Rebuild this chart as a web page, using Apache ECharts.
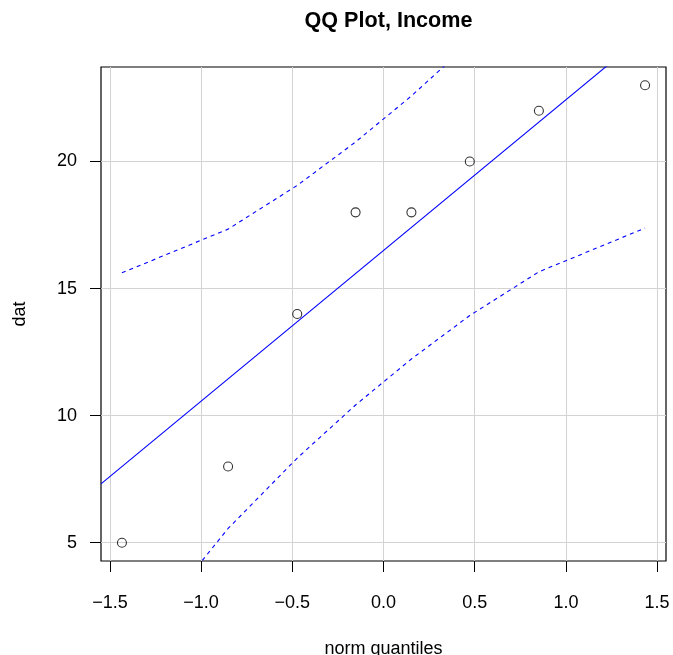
<!DOCTYPE html>
<html>
<head>
<meta charset="utf-8">
<script src="https://cdn.jsdelivr.net/npm/echarts@6/dist/echarts.min.js"></script>
<style>html,body{margin:0;padding:0;background:#fff}#c{width:673px;height:655px}</style>
</head>
<body>
<div id="c"></div>
<script>
// Theoretical normal quantiles (x) and sorted data (y)
const quantiles = [-1.434, -0.852, -0.473, -0.153, 0.153, 0.473, 0.852, 1.434];
const dat = [5, 8, 14, 18, 18, 20, 22, 23];
// 95% confidence envelope at each quantile
const upperEnv = [15.62, 17.34, 19.06, 20.77, 22.58, 24.67, 27.44, 32.62];
const lowerEnv = [0.38, 5.56, 8.33, 10.42, 12.23, 13.94, 15.66, 17.38];
// Reference (quartile) line endpoints across the plot range
const refLineX = [-1.5488, 1.5488];
const refLineY = [7.316, 25.684];
// Axis ranges and ticks
const xRange = [-1.5488, 1.5488];
const yRange = [4.28, 23.72];
const xTicks = [-1.5, -1.0, -0.5, 0.0, 0.5, 1.0, 1.5];
const yTicks = [5, 10, 15, 20];

const FONT = 'Liberation Sans, Arial, Helvetica, sans-serif';
const zip = (a, b) => a.map((v, i) => [v, b[i]]);

const chart = echarts.init(document.getElementById('c'), null, {renderer: 'canvas'});
chart.setOption({
  animation: false,
  backgroundColor: '#ffffff',
  title: {
    text: 'QQ Plot, Income',
    left: 383.5,
    textAlign: 'center',
    top: 5,
    textStyle: {fontFamily: FONT, fontWeight: 'bold', fontSize: 21.6, color: '#000'}
  },
  grid: {
    left: 101, right: 7, top: 67, bottom: 94,
    outerBoundsMode: 'none', containLabel: false,
    show: true, borderColor: '#000', borderWidth: 1.2, backgroundColor: 'transparent'
  },
  xAxis: {
    type: 'value',
    min: xRange[0], max: xRange[1],
    name: 'norm quantiles',
    nameLocation: 'middle',
    nameGap: 79,
    nameTextStyle: {fontFamily: FONT, fontSize: 18, color: '#000'},
    axisLine: {show: false, onZero: false},
    axisTick: {show: true, length: 11, lineStyle: {color: '#000'}, customValues: xTicks},
    axisLabel: {
      fontFamily: FONT, fontSize: 18, color: '#000', margin: 33,
      customValues: xTicks,
      formatter: v => (v < 0 ? '\u2212' : '') + Math.abs(v).toFixed(1)
    },
    splitLine: {show: true, lineStyle: {color: '#d3d3d3', width: 1}}
  },
  yAxis: {
    type: 'value',
    min: yRange[0], max: yRange[1],
    name: 'dat',
    nameLocation: 'middle',
    nameGap: 72,
    nameTextStyle: {fontFamily: FONT, fontSize: 18, color: '#000'},
    axisLine: {show: false, onZero: false},
    axisTick: {show: true, length: 11, lineStyle: {color: '#000'}, customValues: yTicks},
    axisLabel: {
      fontFamily: FONT, fontSize: 18, color: '#000', margin: 24,
      customValues: yTicks,
      formatter: v => String(Math.round(v))
    },
    splitLine: {show: true, lineStyle: {color: '#d3d3d3', width: 1}}
  },
  series: [
    {
      type: 'line', data: zip(refLineX, refLineY), showSymbol: false, symbol: 'none',
      lineStyle: {color: '#0000ff', width: 1.1}, clip: true, z: 3
    },
    {
      type: 'line', data: zip(quantiles, upperEnv), showSymbol: false, symbol: 'none',
      lineStyle: {color: '#0000ff', width: 1.1, type: [4, 4]}, clip: true, z: 3
    },
    {
      type: 'line', data: zip(quantiles, lowerEnv), showSymbol: false, symbol: 'none',
      lineStyle: {color: '#0000ff', width: 1.1, type: [4, 4]}, clip: true, z: 3
    },
    {
      type: 'scatter', data: zip(quantiles, dat), symbol: 'circle', symbolSize: 9,
      itemStyle: {color: 'rgba(0,0,0,0)', borderColor: '#000', borderWidth: 1.1}, z: 4
    }
  ]
});
</script>
</body>
</html>
